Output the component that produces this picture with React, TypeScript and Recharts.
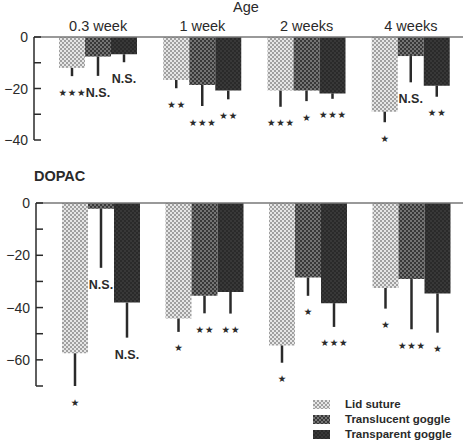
import { BarChart, Bar, XAxis, YAxis, ErrorBar, LabelList, Legend } from 'recharts';

const AGES = ['0.3 week', '1 week', '2 weeks', '4 weeks'];

const SERIES = [
  { key: 'lid', name: 'Lid suture', fill: 'url(#pat-lid)' },
  { key: 'translucent', name: 'Translucent goggle', fill: 'url(#pat-translucent)' },
  { key: 'transparent', name: 'Transparent goggle', fill: 'url(#pat-transparent)' },
];

// upper panel (% change)
const TOP_LID = [-12, -16.7, -20.8, -29];
const TOP_LID_ERR = [3.2, 3.2, 6.3, 4.1];
const TOP_TRANSLUCENT = [-7.6, -18.6, -20.8, -7.4];
const TOP_TRANSLUCENT_ERR = [7.5, 8.2, 4.1, 10.2];
const TOP_TRANSPARENT = [-6.7, -20.8, -21.9, -18.9];
const TOP_TRANSPARENT_ERR = [3.1, 3.4, 2.1, 4.3];
const TOP_SIG_LID = ['***', '**', '***', '*'];
const TOP_SIG_TRANSLUCENT = ['N.S.', '***', '*', 'N.S.'];
const TOP_SIG_TRANSPARENT = ['N.S.', '**', '***', '**'];
const TOP_TICKS = [0, -10, -20, -30, -40];

// DOPAC panel
const DOPAC_LID = [-57.5, -44.2, -54.5, -32.5];
const DOPAC_LID_ERR = [12.5, 5.1, 6.6, 7.9];
const DOPAC_TRANSLUCENT = [-2.2, -35.5, -28.5, -29.1];
const DOPAC_TRANSLUCENT_ERR = [22.6, 6.7, 7, 19.2];
const DOPAC_TRANSPARENT = [-38.1, -34, -38.3, -34.6];
const DOPAC_TRANSPARENT_ERR = [13.4, 8.3, 9.1, 15];
const DOPAC_SIG_LID = ['*', '*', '*', '*'];
const DOPAC_SIG_TRANSLUCENT = ['N.S.', '**', '*', '***'];
const DOPAC_SIG_TRANSPARENT = ['N.S.', '**', '***', '*'];
const DOPAC_TICKS = [0, -10, -20, -30, -40, -50, -60, -70];

const FONT = '"Liberation Sans", Arial, sans-serif';
const INK = '#2a2a2a';

function buildData(vals: number[][], errs: number[][]) {
  return AGES.map((age, i) => {
    const row: any = { age };
    SERIES.forEach((s, k) => {
      row[s.key] = vals[k][i];
      row[s.key + 'Err'] = [errs[k][i], 0];
    });
    return row;
  });
}

const topData = buildData(
  [TOP_LID, TOP_TRANSLUCENT, TOP_TRANSPARENT],
  [TOP_LID_ERR, TOP_TRANSLUCENT_ERR, TOP_TRANSPARENT_ERR],
);
const dopacData = buildData(
  [DOPAC_LID, DOPAC_TRANSLUCENT, DOPAC_TRANSPARENT],
  [DOPAC_LID_ERR, DOPAC_TRANSLUCENT_ERR, DOPAC_TRANSPARENT_ERR],
);

function YTick(props: any) {
  const { x, y, payload } = props;
  const v = payload.value as number;
  return (
    <g>
      <line x1={x} x2={x + 7} y1={y} y2={y} stroke={INK} strokeWidth={1.5} />
      {v % 20 === 0 && (
        <text x={x - 6} y={y} textAnchor="end" dominantBaseline="central" fontSize={14} fontFamily={FONT} fill={INK}>
          {v === 0 ? '0' : `\u2212${Math.abs(v)}`}
        </text>
      )}
    </g>
  );
}

function makeSigLabel(values: number[], errs: number[], sig: string[]) {
  return function SigLabel(props: any) {
    const vb = props.viewBox || {};
    const x = Number(props.x ?? vb.x);
    const y = Number(props.y ?? vb.y);
    const w = Number(props.width ?? vb.width);
    const h = Number(props.height ?? vb.height);
    const i = props.index ?? values.indexOf(props.value);
    const v = Math.abs(values[i]);
    const bottom = Math.max(y, y + h);
    const ppu = v > 0 ? Math.abs(h) / v : 0;
    const end = bottom + ppu * errs[i];
    const cx = x + w / 2;
    const s = sig[i];
    if (s === 'N.S.') {
      return (
        <text x={cx} y={end + 17} textAnchor="middle" dominantBaseline="central" fontWeight="bold" fontSize={12.5} fontFamily={FONT} fill={INK}>
          N.S.
        </text>
      );
    }
    const n = s.length;
    return (
      <g>
        {Array.from({ length: n }, (_, k) => (
          <text key={k} x={cx + (k - (n - 1) / 2) * 9.3} y={end + 16} textAnchor="middle" dominantBaseline="central" fontSize={9.5} fontFamily='"DejaVu Sans"' fill={INK}>
            ★
          </text>
        ))}
      </g>
    );
  };
}

function renderBars(vals: number[][], errs: number[][], sigs: string[][]) {
  return SERIES.map((s, k) => (
    <Bar key={s.key} dataKey={s.key} name={s.name} fill={s.fill} barSize={26} isAnimationActive={false}>
      <ErrorBar dataKey={s.key + 'Err'} width={0} stroke={INK} strokeWidth={2.5} direction="y" />
      <LabelList dataKey={s.key} content={makeSigLabel(vals[k], errs[k], sigs[k])} />
    </Bar>
  ));
}

function LegendBox() {
  return (
    <div style={{ fontFamily: FONT, fontWeight: 'bold', fontSize: 11.5, color: INK, lineHeight: '15px' }}>
      {SERIES.map((s) => (
        <div key={s.key} style={{ display: 'flex', alignItems: 'center', height: 15 }}>
          <svg width={17} height={9} style={{ marginRight: 15 }}>
            <rect width={17} height={9} fill={s.fill} />
          </svg>
          <span>{s.name}</span>
        </div>
      ))}
    </div>
  );
}

export default function App() {
  return (
    <div style={{ position: 'absolute', left: 0, top: 0, width: 465, height: 442, background: '#fff', fontFamily: FONT }}>
      <svg width={0} height={0} style={{ position: 'absolute' }}>
        <defs>
          <pattern id="pat-lid" width={4} height={4} patternUnits="userSpaceOnUse">
            <rect width={4} height={4} fill="#e6e6e6" />
            <rect width={2} height={2} fill="#a0a0a0" />
            <rect x={2} y={2} width={2} height={2} fill="#a0a0a0" />
          </pattern>
          <pattern id="pat-translucent" width={4} height={4} patternUnits="userSpaceOnUse">
            <rect width={4} height={4} fill="#747474" />
            <rect width={2} height={2} fill="#383838" />
            <rect x={2} y={2} width={2} height={2} fill="#383838" />
          </pattern>
          <pattern id="pat-transparent" width={4} height={4} patternUnits="userSpaceOnUse">
            <rect width={4} height={4} fill="#383838" />
            <rect width={2} height={2} fill="#2a2a2a" />
            <rect x={2} y={2} width={2} height={2} fill="#2a2a2a" />
          </pattern>
        </defs>
      </svg>

      <div style={{ position: 'absolute', left: 0, top: 0 }}>
        <BarChart width={465} height={442} data={topData} barGap={0} margin={{ top: 17, right: 2, bottom: 302, left: 0 }}>
          <XAxis
            dataKey="age"
            orientation="top"
            height={20}
            axisLine={{ stroke: '#777', strokeWidth: 1.5 }}
            tickLine={false}
            tickSize={0}
            tickMargin={6}
            interval={0}
            padding={{ left: 12, right: 0 }}
            tick={{ fontSize: 14.5, fill: INK, fontFamily: FONT }}
          />
          <YAxis
            width={34}
            domain={[-40, 0]}
            allowDataOverflow
            ticks={TOP_TICKS}
            interval={0}
            tickLine={false}
            tickSize={0}
            tickMargin={0}
            axisLine={{ stroke: INK, strokeWidth: 1.5 }}
            tick={<YTick />}
          />
          {renderBars(
            [TOP_LID, TOP_TRANSLUCENT, TOP_TRANSPARENT],
            [TOP_LID_ERR, TOP_TRANSLUCENT_ERR, TOP_TRANSPARENT_ERR],
            [TOP_SIG_LID, TOP_SIG_TRANSLUCENT, TOP_SIG_TRANSPARENT],
          )}
        </BarChart>
      </div>

      <div style={{ position: 'absolute', left: 0, top: 0 }}>
        <BarChart width={465} height={442} data={dopacData} barGap={0} margin={{ top: 202, right: 2, bottom: 56, left: 0 }}>
          <XAxis
            dataKey="age"
            orientation="top"
            height={1}
            axisLine={{ stroke: '#777', strokeWidth: 1.5 }}
            tickLine={false}
            tick={false}
            padding={{ left: 13, right: 0 }}
          />
          <YAxis
            width={36}
            domain={[-70, 0]}
            allowDataOverflow
            ticks={DOPAC_TICKS}
            interval={0}
            tickLine={false}
            tickSize={0}
            tickMargin={0}
            axisLine={{ stroke: INK, strokeWidth: 1.5 }}
            tick={<YTick />}
          />
          {renderBars(
            [DOPAC_LID, DOPAC_TRANSLUCENT, DOPAC_TRANSPARENT],
            [DOPAC_LID_ERR, DOPAC_TRANSLUCENT_ERR, DOPAC_TRANSPARENT_ERR],
            [DOPAC_SIG_LID, DOPAC_SIG_TRANSLUCENT, DOPAC_SIG_TRANSPARENT],
          )}
          <Legend
            layout="horizontal"
            verticalAlign="middle"
            align="center"
            content={() => <LegendBox />}
            wrapperStyle={{ left: 313, top: 397, width: 152, right: 'auto', bottom: 'auto' }}
          />
        </BarChart>
      </div>

      <div style={{ position: 'absolute', left: 233, top: 0, fontSize: 14.5, lineHeight: '15px', color: INK }}>Age</div>
      <div style={{ position: 'absolute', left: 34, top: 168, fontSize: 14.5, fontWeight: 'bold', color: INK }}>DOPAC</div>
    </div>
  );
}
